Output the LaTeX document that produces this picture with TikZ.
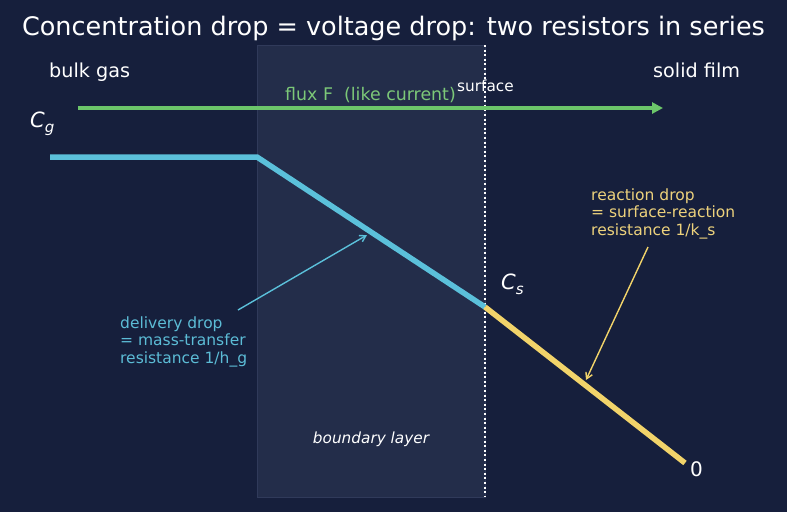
\documentclass[tikz,border=0pt]{standalone}
\usepackage{fontspec}
\setmainfont{DejaVu Sans}
\usetikzlibrary{arrows.meta}
\definecolor{bgc}{HTML}{161F3C}
\definecolor{layerc}{HTML}{232D4A}
\definecolor{layeredge}{HTML}{303A5A}
\definecolor{fluxc}{HTML}{6CC66A}
\definecolor{fluxtxt}{HTML}{7CC878}
\definecolor{bluec}{HTML}{5BC0DA}
\definecolor{bluetxt}{HTML}{5CBCD6}
\definecolor{yelc}{HTML}{F2D46A}
\definecolor{yeltxt}{HTML}{EDD27C}
\tikzset{
  lbl/.style={inner sep=0pt, text=white},
  ann/.style={inner sep=0pt, align=left, font=\fontsize{15.5}{17.2}\selectfont},
  profile/.style={line width=5.5pt},
  pointer/.style={line width=1.4pt, -{Straight Barb[length=6pt,width=7pt]}},
}
\begin{document}
\begin{tikzpicture}[x=1pt,y=-1pt]
\useasboundingbox (0,0) rectangle (787,512);
\fill[bgc] (0,0) rectangle (787,512);
% boundary layer
\draw[fill=layerc, draw=layeredge, line width=0.8pt] (257,45) rectangle (485,497);
% surface dotted line
\coordinate (st) at (485,45);
\coordinate (sb) at (485,497);
\draw[white, line width=1.8pt, dash pattern=on 2pt off 2.6pt] (st) -- (sb);
% title
\node[lbl, anchor=base, font=\fontsize{25.5}{28}\selectfont] (title) at (393.5,35) {Concentration drop = voltage drop: two resistors in series};
\node[lbl, anchor=base west, font=\fontsize{19.2}{21}\selectfont] (bulk) at (49,77) {bulk gas};
\node[lbl, anchor=base west, font=\fontsize{19.2}{21}\selectfont] (solid) at (653,77) {solid film};
\node[lbl, anchor=base west, font=\fontsize{15.3}{17}\selectfont] (surf) at (457,91) {surface};
% flux
\coordinate (fl) at (78,108);
\coordinate (fr) at (663,108);
\draw[fluxc, line width=3.8pt, -{Triangle[length=11pt,width=11pt]}] (fl) -- (fr);
\node[lbl, text=fluxtxt, anchor=base west, font=\fontsize{17.4}{19}\selectfont] (flux) at (285,100) {flux F\hspace{0.32em} (like current)};
% concentration labels
\node[lbl, anchor=base west, font=\fontsize{21}{23}\selectfont] (cg) at (30,127) {\itshape C\raisebox{-0.25em}{\fontsize{15}{16}\selectfont g}};
\node[lbl, anchor=base west, font=\fontsize{21}{23}\selectfont] (cs) at (501,289) {\itshape C\raisebox{-0.25em}{\fontsize{15}{16}\selectfont s}};
\node[lbl, anchor=base west, font=\fontsize{20}{22}\selectfont] (zero) at (690,476) {0};
% profile
\coordinate (p0) at (50,157);
\coordinate (p1) at (257,157);
\coordinate (p2) at (485,307);
\coordinate (p3) at (685,463);
\draw[bluec, profile] (p0) -- (p1) -- (p2);
\draw[yelc, profile] (p2) -- (p3);
% boundary layer label
\node[lbl, anchor=base, font=\fontsize{15.3}{17}\selectfont\itshape] (bl) at (371,443) {boundary layer};
% annotations
\node[ann, text=bluetxt, anchor=base west] (del) at (120,363) {delivery drop\\= mass-transfer\\resistance 1/h\_g};
\coordinate (da) at (238,310);
\coordinate (db) at (367,235);
\draw[bluec, pointer] (da) -- (db);
\node[ann, text=yeltxt, anchor=base west] (rea) at (591,235) {reaction drop\\= surface-reaction\\resistance 1/k\_s};
\coordinate (ra) at (648,247);
\coordinate (rb) at (586,380);
\draw[yelc, pointer] (ra) -- (rb);
\end{tikzpicture}
\end{document}
